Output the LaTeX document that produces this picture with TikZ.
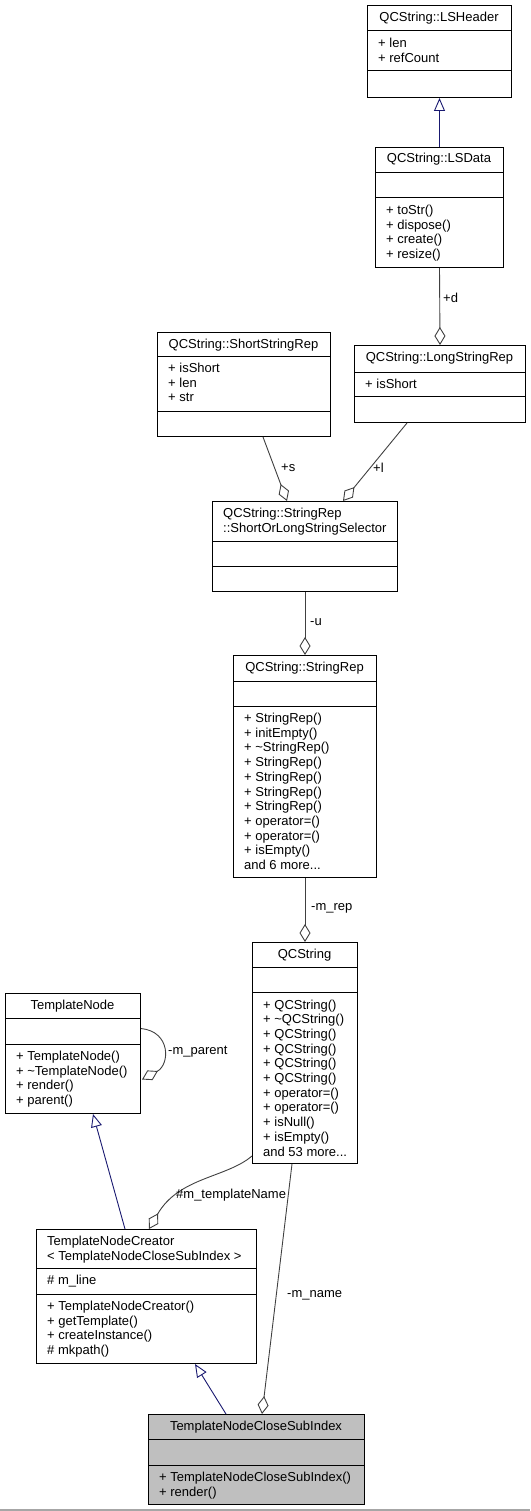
\documentclass[tikz,border=0pt]{standalone}
\usepackage{fontspec}
\setmainfont{Liberation Sans}
\usetikzlibrary{arrows.meta,calc}

\definecolor{edgegray}{HTML}{404040}
\definecolor{inhblue}{HTML}{191970}
\definecolor{focusfill}{HTML}{BFBFBF}

\tikzset{
  classbox/.style={draw=black, line width=1pt, inner sep=0pt, anchor=north west},
  txt/.style={inner sep=0pt, font=\fontsize{13}{14.7}\selectfont},
  lbl/.style={txt, anchor=west},
  inherit/.style={draw=inhblue, line width=0.9pt, -{Triangle[open, length=13pt, width=11pt]}},
  agg/.style={draw=edgegray, line width=0.9pt, -{Diamond[open, length=18pt, width=11pt]}},
}

% trailing dots for "and N more" lines (kept out of \foreach's range syntax)
\newcommand\moredots{...}

% UML class frame: [style]{name}{left}{top}{right}{bottom}{sep1}{sep2}
\newcommand\umlclass[8][]{%
  \node[classbox,#1,minimum width={(#5)-(#3)},minimum height={(#6)-(#4)}] (#2) at (#3,#4) {};
  \draw[line width=1pt] (#2.west |- 0,#7) -- (#2.east |- 0,#7)
                        (#2.west |- 0,#8) -- (#2.east |- 0,#8);
}
% left aligned member lines: {prefix}{x}{first baseline}{items}
\newcommand\memberlist[4]{%
  \foreach \m [count=\k] in {#4}
    \node[txt, anchor=base west] (#1-\k) at (#2, {#3+14.7*(\k-1)}) {\m};
}

\begin{document}
\begin{tikzpicture}[x=1pt, y=-1pt]
\useasboundingbox (0,0) rectangle (530,1511);

% ---- classes ----
\umlclass{lsh}{367}{5}{511}{97}{31}{71}
\node[txt, anchor=base] (lsh-t) at (439,22) {QCString::LSHeader};
\memberlist{lsh-a}{378}{47.5}{+ len, + refCount}

\umlclass{lsd}{375}{147}{503}{267}{173}{198}
\node[txt, anchor=base] (lsd-t) at (439,163) {QCString::LSData};
\memberlist{lsd-m}{386}{214.5}{+ toStr(), + dispose(), + create(), + resize()}

\umlclass{ssr}{157}{332}{330}{436}{356}{411}
\node[txt, anchor=base] (ssr-t) at (243.5,348.5) {QCString::ShortStringRep};
\memberlist{ssr-a}{168}{372.5}{+ isShort, + len, + str}

\umlclass{lsr}{354}{345}{525}{422}{372}{396}
\node[txt, anchor=base] (lsr-t) at (439.5,361.5) {QCString::LongStringRep};
\memberlist{lsr-a}{365}{388}{+ isShort}

\umlclass{sel}{212}{501}{397}{591}{541}{566}
\memberlist{sel-t}{223}{517.5}{QCString::StringRep, ::ShortOrLongStringSelector}

\umlclass{srep}{233}{655}{376}{877}{681}{706}
\node[txt, anchor=base] (srep-t) at (304.5,671.5) {QCString::StringRep};
\memberlist{srep-m}{244}{722.5}{+ StringRep(), + initEmpty(), + \textasciitilde StringRep(),
  + StringRep(), + StringRep(), + StringRep(), + StringRep(), + operator=(),
  + operator=(), + isEmpty(), and 6 more\moredots}

\umlclass{qcs}{252}{942}{357}{1163}{967}{992}
\node[txt, anchor=base] (qcs-t) at (304.5,958.5) {QCString};
\memberlist{qcs-m}{263}{1009}{+ QCString(), + \textasciitilde QCString(), + QCString(),
  + QCString(), + QCString(), + QCString(), + operator=(), + operator=(),
  + isNull(), + isEmpty(), and 53 more\moredots}

\umlclass{tn}{5}{993}{140}{1113}{1018}{1044}
\node[txt, anchor=base] (tn-t) at (72.5,1009.5) {TemplateNode};
\memberlist{tn-m}{16}{1060.5}{+ TemplateNode(), + \textasciitilde TemplateNode(), + render(), + parent()}

\umlclass{tnc}{36}{1229}{256}{1363}{1268}{1294}
\memberlist{tnc-t}{47}{1245.5}{TemplateNodeCreator, < TemplateNodeCloseSubIndex >}
\memberlist{tnc-a}{47}{1284.5}{\# m\_line}
\memberlist{tnc-m}{47}{1310.5}{+ TemplateNodeCreator(), + getTemplate(), + createInstance(), \# mkpath()}

\umlclass[fill=focusfill]{tncsi}{148}{1414}{364}{1504}{1439}{1465}
\node[txt, anchor=base] (tncsi-t) at (256,1430.5) {TemplateNodeCloseSubIndex};
\memberlist{tncsi-m}{159}{1481.5}{+ TemplateNodeCloseSubIndex(), + render()}

% ---- inheritance ----
\draw[inherit] (lsd.north) -- (lsh.south);
\draw[inherit] ($(tnc.north west)+(89,0)$) -- ($(tn.south west)+(88,0)$);
\draw[inherit] ($(tncsi.north west)+(78,0)$) -- ($(tnc.south west)+(159,0)$);

% ---- aggregation ----
\draw[agg] (lsd.south) -- (lsr.north);
\node[lbl] (d-l) at (443,298) {+d};

\draw[agg] ($(ssr.south west)+(106,0)$) -- ($(sel.north west)+(75,0)$);
\node[lbl] (s-l) at (281,468) {+s};

\draw[agg] ($(lsr.south west)+(53,0)$) -- ($(sel.north west)+(131,0)$);
\node[lbl] (l-l) at (373,468) {+l};

\draw[agg] (sel.south) -- (srep.north);
\node[lbl] (u-l) at (310,622) {-u};

\draw[agg] (srep.south) -- (qcs.north);
\node[lbl] (rep-l) at (311,908) {-m\_rep};

\draw[agg] ($(tn.east)+(0,-25)$) .. controls +(30,3) and +(28,-15) .. ($(tn.east)+(1,26)$);
\node[lbl] (par-l) at (168,1052) {-m\_parent};

\draw[agg] ($(qcs.south west)+(0,-8)$) .. controls +(-26,22) and +(30,-52) .. ($(tnc.north west)+(113,0)$);
\node[lbl] (tpl-l) at (176,1195) {\#m\_templateName};

\draw[agg] ($(qcs.south west)+(40,0)$) -- ($(tncsi.north west)+(114,0)$);
\node[lbl] (name-l) at (287,1295) {-m\_name};

% bottom rule
\draw[gray!70, line width=1.5pt] (0,1510) -- (530,1510);
\end{tikzpicture}
\end{document}
